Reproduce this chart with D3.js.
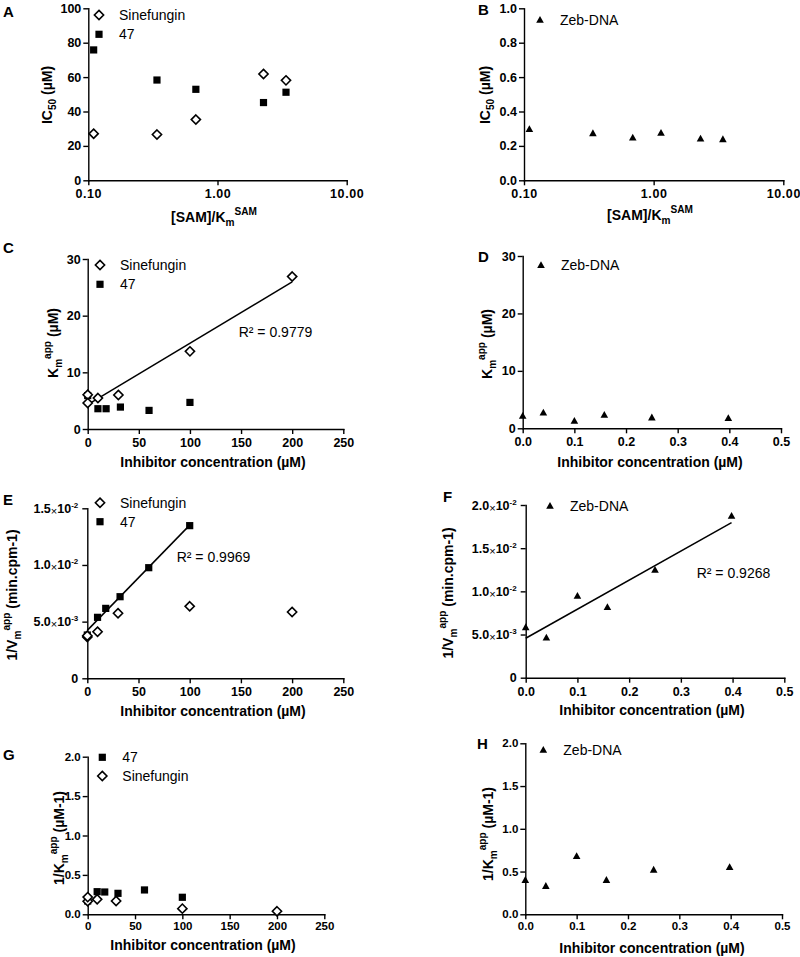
<!DOCTYPE html>
<html><head><meta charset="utf-8">
<script src="https://cdn.jsdelivr.net/npm/d3@7"></script>
<style>
body{margin:0;background:#fff}
svg{display:block}
text{font-family:"Liberation Sans",Arial,sans-serif;fill:#000}
</style>
</head><body>
<svg id="chart" width="800" height="957"></svg>
<script>
// ---------- DATA ----------
const samRatio47Sine = [0.11, 0.34, 0.68, 2.27, 3.39];
const ic50Sinefungin = [27.1, 26.6, 35.3, 61.8, 58.1];
const ic50Cpd47 = [75.8, 58.3, 52.9, 45.2, 51.2];
const samRatioZeb = [0.11, 0.34, 0.69, 1.14, 2.30, 3.42];
const ic50ZebDNA = [0.297, 0.273, 0.248, 0.275, 0.242, 0.238];

const concSinefungin = [0, 0, 10, 30, 100, 200];
const concCpd47 = [0, 10, 18, 32, 60, 100];
const concZebDNA = [0, 0.04, 0.1, 0.158, 0.25, 0.398];

const kmSinefungin = [6.04, 4.58, 5.46, 6.0, 13.7, 26.9];
const kmCpd47 = [5.9, 3.58, 3.58, 3.87, 3.28, 4.69];
const kmZebDNA = [2.15, 2.7, 1.28, 2.33, 1.86, 1.74];

const invVmSinefungin = [0.00365, 0.00375, 0.00411, 0.00574, 0.00635, 0.00585];
const invVmCpd47 = [0.00382, 0.00538, 0.00617, 0.0072, 0.00976, 0.01347];
const invVmZebDNA = [0.00583, 0.00463, 0.00946, 0.00815, 0.01247, 0.01873];

const invKmSinefungin = [0.166, 0.218, 0.19, 0.169, 0.072, 0.038];
const invKmCpd47 = [0.169, 0.287, 0.283, 0.266, 0.309, 0.216];
const invKmZebDNA = [0.40, 0.33, 0.68, 0.40, 0.52, 0.55];

const ticksLogX = [0.1, 1, 10];
const ticksIC50 = [0, 20, 40, 60, 80, 100];
const ticksIC50Zeb = [0, 0.2, 0.4, 0.6, 0.8, 1.0];
const ticksConc = [0, 50, 100, 150, 200, 250];
const ticksConcZeb = [0, 0.1, 0.2, 0.3, 0.4, 0.5];
const ticksKm = [0, 10, 20, 30];
const ticksInvVm = [0, 0.005, 0.01, 0.015];
const ticksInvVmZeb = [0, 0.005, 0.01, 0.015, 0.02];
const ticksInvKm = [0, 0.5, 1.0, 1.5, 2.0];

const nameSine = "Sinefungin", name47 = "47", nameZeb = "Zeb-DNA";
const r2C = "R² = 0.9779", r2E = "R² = 0.9969", r2F = "R² = 0.9268";
const panelLetters = ["A","B","C","D","E","F","G","H"];

// ---------- helpers ----------
const svg = d3.select("#chart");
const SYM = {
  diamond: "M0,-4.6L4.6,0L0,4.6L-4.6,0Z",
  square: "M-3.6,-3.6h7.2v7.2h-7.2Z",
  triangle: "M0,-4L3.8,2.8L-3.8,2.8Z"
};
function symbol(g, shape, cx, cy) {
  const p = g.append("path").attr("d", SYM[shape]).attr("transform", `translate(${cx},${cy})`);
  if (shape === "diamond") p.attr("fill", "#fff").attr("stroke", "#000").attr("stroke-width", 1.6);
  else p.attr("fill", "#000");
}
function rich(textSel, segs, size) {
  let level = 0;
  segs.forEach(([t, mode]) => {
    const target = mode === "sub" ? 4 : mode === "sup" ? -7 : 0;
    const ts = textSel.append("tspan").text(t).attr("dy", target - level);
    if (mode) ts.attr("font-size", size * 0.72);
    level = target;
  });
}
function fit(xs, ys) {
  const mx = d3.mean(xs), my = d3.mean(ys);
  let sxy = 0, sxx = 0;
  xs.forEach((x, i) => { sxy += (x - mx) * (ys[i] - my); sxx += (x - mx) * (x - mx); });
  const b = sxy / sxx;
  return { b, a: my - b * mx };
}
function sciLabels(sel) {
  sel.selectAll(".tick text").each(function(d) {
    const t = d3.select(this);
    t.text(null);
    if (d === 0) { t.text("0"); return; }
    const e = Math.floor(Math.log10(d) + 1e-9);
    const m = (d / Math.pow(10, e)).toFixed(1);
    t.append("tspan").text(m);
    t.append("tspan").text("×").attr("font-size", 11).attr("font-weight", "normal").attr("dy", 2);
    t.append("tspan").text("10").attr("dy", -2);
    t.append("tspan").text(String(e)).attr("font-size", 8).attr("dy", -5);
  });
}

function panel(cfg) {
  const g = svg.append("g");
  const tf = cfg.tickFont || 12.5;
  const x = (cfg.log ? d3.scaleLog() : d3.scaleLinear()).domain(cfg.xd).range([cfg.x0, cfg.x1]);
  const y = d3.scaleLinear().domain(cfg.yd).range([cfg.bottom, cfg.top]);

  const ax = d3.axisBottom(x).tickValues(cfg.xt).tickFormat(cfg.xf).tickSize(5).tickSizeOuter(0).tickPadding(cfg.xPad || 4);
  const ay = d3.axisLeft(y).tickValues(cfg.yt).tickFormat(cfg.yf).tickSize(5).tickSizeOuter(0).tickPadding(2);
  const gx = g.append("g").attr("transform", `translate(0,${cfg.bottom})`).call(ax);
  const gy = g.append("g").attr("transform", `translate(${cfg.x0},0)`).call(ay);
  [gx, gy].forEach(a => {
    a.attr("font-family", null).attr("font-size", null);
    a.select(".domain").attr("stroke", "#000").attr("stroke-width", 1.4).attr("stroke-linecap", "square");
    a.selectAll(".tick line").attr("stroke", "#000").attr("stroke-width", 1.4);
    a.selectAll(".tick text").attr("fill", "#000").attr("font-weight", "bold").attr("font-size", tf);
  });
  if (cfg.log) gx.selectAll(".tick text").attr("letter-spacing", 0.6);
  if (cfg.sci) { sciLabels(gy); gy.selectAll(".tick text").attr("x", -9); }

  if (cfg.fit) {
    const f = fit(cfg.fit.xs, cfg.fit.ys);
    const xe = d3.extent(cfg.fit.xs);
    g.append("line")
      .attr("x1", x(xe[0])).attr("y1", y(f.a + f.b * xe[0]))
      .attr("x2", x(xe[1])).attr("y2", y(f.a + f.b * xe[1]))
      .attr("stroke", "#000").attr("stroke-width", 1.5);
  }
  cfg.series.forEach(s => s.xs.forEach((xv, i) => symbol(g, s.shape, x(xv), y(s.ys[i]))));
  cfg.legend.forEach((l, i) => {
    const ly = cfg.legY + i * cfg.legStep;
    symbol(g, l.shape, cfg.legX, ly);
    g.append("text").attr("x", cfg.legX + 20).attr("y", ly + 5).attr("font-size", 14).text(l.name);
  });
  if (cfg.r2) g.append("text").attr("x", cfg.r2.x).attr("y", cfg.r2.y + 5).attr("font-size", 14).text(cfg.r2.t);
  g.append("text").attr("x", cfg.letter[1]).attr("y", cfg.letter[2]).attr("font-size", 15).attr("font-weight", "bold").text(cfg.letter[0]);
  const xt = g.append("text").attr("text-anchor", "middle").attr("font-weight", "bold").attr("font-size", 14)
    .attr("transform", `translate(${cfg.xtPos[0]},${cfg.xtPos[1] + 5})`);
  rich(xt, cfg.xTitle, 14);
  const yt = g.append("text").attr("text-anchor", "middle").attr("font-weight", "bold").attr("font-size", 14)
    .attr("transform", `translate(${cfg.ytPos[0] + 5},${cfg.ytPos[1]}) rotate(-90)`);
  rich(yt, cfg.yTitle, 14);
}

const fmt1 = d3.format(".1f"), fmt0 = d3.format("d"), fmt2 = d3.format(".2f");
const xTitleSAM = [["[SAM]/K"], ["m", "sub"], ["SAM", "sup"]];
const xTitleConc = [["Inhibitor concentration (µM)"]];
const yIC50 = [["IC"], ["50", "sub"], [" (µM)"]];
const yKm = [["K"], ["m", "sub"], ["app", "sup"], [" (µM)"]];
const yVm = [["1/V"], ["m", "sub"], ["app", "sup"], [" (min.cpm-1)"]];
const yInvKm = [["1/K"], ["m", "sub"], ["app", "sup"], [" (µM-1)"]];

// A
panel({ log: true, xd: [0.1, 10], x0: 88.3, x1: 346.7, yd: [0, 100], top: 8.3, bottom: 180.3,
  xt: ticksLogX, xf: fmt2, yt: ticksIC50, yf: fmt0,
  series: [{ shape: "diamond", xs: samRatio47Sine, ys: ic50Sinefungin }, { shape: "square", xs: samRatio47Sine, ys: ic50Cpd47 }],
  legend: [{ shape: "diamond", name: nameSine }, { shape: "square", name: name47 }], legX: 99, legY: 15, legStep: 19.3,
  letter: [panelLetters[0], 3, 17], xTitle: xTitleSAM, xtPos: [214, 217], yTitle: yIC50, ytPos: [47, 95] });
// B
panel({ log: true, xd: [0.1, 10], x0: 524, x1: 783.3, yd: [0, 1], top: 8.3, bottom: 180.3,
  xt: ticksLogX, xf: fmt2, yt: ticksIC50Zeb, yf: fmt1,
  series: [{ shape: "triangle", xs: samRatioZeb, ys: ic50ZebDNA }],
  legend: [{ shape: "triangle", name: nameZeb }], legX: 540, legY: 20, legStep: 19,
  letter: [panelLetters[1], 478, 15], xTitle: xTitleSAM, xtPos: [650, 215], yTitle: yIC50, ytPos: [485, 95] });
// C
panel({ xd: [0, 250], x0: 87.7, x1: 343.3, yd: [0, 30], top: 259, bottom: 429,
  xt: ticksConc, xf: fmt0, yt: ticksKm, yf: fmt0,
  fit: { xs: concSinefungin, ys: kmSinefungin },
  series: [{ shape: "square", xs: concCpd47, ys: kmCpd47 }, { shape: "diamond", xs: concSinefungin, ys: kmSinefungin }],
  legend: [{ shape: "diamond", name: nameSine }, { shape: "square", name: name47 }], legX: 100, legY: 265, legStep: 19.3,
  r2: { x: 238.7, y: 332, t: r2C },
  letter: [panelLetters[2], 3, 252.7], xTitle: xTitleConc, xtPos: [213, 461.7], yTitle: yKm, ytPos: [53, 343] });
// D
panel({ xd: [0, 0.5], x0: 522.7, x1: 781, yd: [0, 30], top: 256, bottom: 428.3,
  xt: ticksConcZeb, xf: fmt1, yt: ticksKm, yf: fmt0,
  series: [{ shape: "triangle", xs: concZebDNA, ys: kmZebDNA }],
  legend: [{ shape: "triangle", name: nameZeb }], legX: 541, legY: 265.3, legStep: 19,
  letter: [panelLetters[3], 478, 261.7], xTitle: xTitleConc, xtPos: [650, 461.7], yTitle: yKm, ytPos: [487, 344] });
// E
panel({ sci: true, xd: [0, 250], x0: 87.3, x1: 343.3, yd: [0, 0.015], top: 508.3, bottom: 678.3,
  xt: ticksConc, xf: fmt0, yt: ticksInvVm, yf: d3.format(".3f"),
  fit: { xs: concCpd47, ys: invVmCpd47 },
  series: [{ shape: "square", xs: concCpd47, ys: invVmCpd47 }, { shape: "diamond", xs: concSinefungin, ys: invVmSinefungin }],
  legend: [{ shape: "diamond", name: nameSine }, { shape: "square", name: name47 }], legX: 100, legY: 502.7, legStep: 19,
  r2: { x: 176.7, y: 556.7, t: r2E },
  letter: [panelLetters[4], 3, 505], xTitle: xTitleConc, xtPos: [213, 710.7], yTitle: yVm, ytPos: [12, 595] });
// F
panel({ sci: true, xd: [0, 0.5], x0: 525.7, x1: 784.3, yd: [0, 0.02], top: 505, bottom: 677.7,
  xt: ticksConcZeb, xf: fmt1, yt: ticksInvVmZeb, yf: d3.format(".3f"),
  fit: { xs: concZebDNA, ys: invVmZebDNA },
  series: [{ shape: "triangle", xs: concZebDNA, ys: invVmZebDNA }],
  legend: [{ shape: "triangle", name: nameZeb }], legX: 550, legY: 506, legStep: 19,
  r2: { x: 696.7, y: 572.7, t: r2F },
  letter: [panelLetters[5], 443, 501.7], xTitle: xTitleConc, xtPos: [652, 710], yTitle: yVm, ytPos: [448, 593] });
// G
panel({ tickFont: 11.5, xPad: 3, xd: [0, 250], x0: 87.7, x1: 324.3, yd: [0, 2], top: 756.7, bottom: 914.3,
  xt: ticksConc, xf: fmt0, yt: ticksInvKm, yf: fmt1,
  series: [{ shape: "square", xs: concCpd47, ys: invKmCpd47 }, { shape: "diamond", xs: concSinefungin, ys: invKmSinefungin }],
  legend: [{ shape: "square", name: name47 }, { shape: "diamond", name: nameSine }], legX: 102.3, legY: 757.3, legStep: 18.7,
  letter: [panelLetters[6], 3, 760], xTitle: xTitleConc, xtPos: [203, 945], yTitle: yInvKm, ytPos: [59, 838] });
// H
panel({ tickFont: 11.5, xPad: 3, xd: [0, 0.5], x0: 525.3, x1: 782, yd: [0, 2], top: 743.3, bottom: 914.3,
  xt: ticksConcZeb, xf: fmt1, yt: ticksInvKm, yf: fmt1,
  series: [{ shape: "triangle", xs: concZebDNA, ys: invKmZebDNA }],
  legend: [{ shape: "triangle", name: nameZeb }], legX: 543.3, legY: 750, legStep: 19,
  letter: [panelLetters[7], 477, 749], xTitle: xTitleConc, xtPos: [652, 948], yTitle: yInvKm, ytPos: [488, 834] });
</script>
</body></html>
